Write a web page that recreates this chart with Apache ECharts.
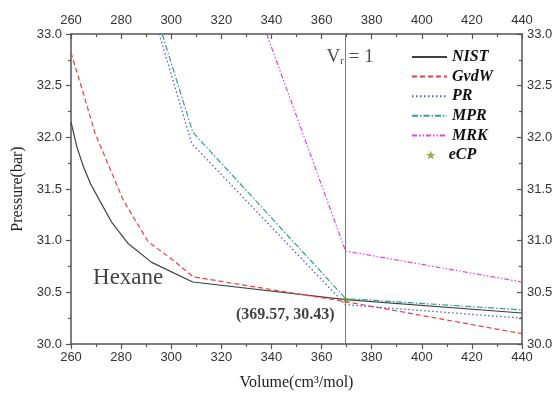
<!DOCTYPE html>
<html><head><meta charset="utf-8">
<script src="https://cdn.jsdelivr.net/npm/echarts@6/dist/echarts.min.js"></script>
<style>html,body{margin:0;padding:0;background:#fff}#c{width:560px;height:396px}</style>
</head><body><div id="c"></div><script>
// Axis scales
const volumeRange = [260, 440];
const volumeStep = 20;
const pressureRange = [30, 33];
const pressureStep = 0.5;

// Series (Volume cm3/mol, Pressure bar)
const nistV = [260, 262.3, 264.9, 267.8, 271.4, 276.2, 282.9, 292.2, 308.6, 369.57, 440];
const nistP = [32.15, 31.91, 31.72, 31.55, 31.39, 31.18, 30.97, 30.79, 30.60, 30.43, 30.30];
const gvdwV = [260, 265, 269.6, 280.9, 290.8, 300.8, 308.8, 369.57, 440];
const gvdwP = [32.82, 32.42, 32.04, 31.39, 30.99, 30.81, 30.65, 30.41, 30.10];
const prV = [295.2, 308.2, 369.57, 440];
const prP = [33.0, 31.94, 30.38, 30.25];
const mprV = [296.4, 308.6, 369.57, 440];
const mprP = [33.0, 32.05, 30.44, 30.33];
const mrkV = [338.1, 369.57, 440];
const mrkP = [33.0, 30.90, 30.60];
const ecpV = [369.57];
const ecpP = [30.43];
const vrLineV = [369.57, 369.57];
const vrLineP = [30, 33];

const zip = (a, b) => a.map((v, i) => [v, b[i]]);
const serif = 'Liberation Serif';
const sans = 'Liberation Sans';
const star = 'path://M0,-10 L2.35,-3.24 L9.51,-3.09 L3.8,1.24 L5.88,8.09 L0,4 L-5.88,8.09 L-3.8,1.24 L-9.51,-3.09 L-2.35,-3.24 Z';

const axisLine = {show: true, lineStyle: {color: '#555', width: 1.5}};
function xAxis(pos, inside, name) {
  return {
    type: 'value', position: pos, min: volumeRange[0], max: volumeRange[1], interval: volumeStep,
    axisLine: axisLine, splitLine: {show: false},
    axisTick: {show: true, inside: inside, length: 5, lineStyle: {color: '#555', width: 1.2}},
    minorTick: {show: true, splitNumber: 2, length: 3, lineStyle: {color: '#555', width: 1.2}},
    axisLabel: {color: '#333', fontSize: 13, fontFamily: sans, margin: 7},
    name: name || '', nameLocation: 'middle', nameGap: 31,
    nameTextStyle: {fontFamily: serif, fontSize: 16, color: '#222'}
  };
}
function yAxis(pos, inside, name) {
  return {
    type: 'value', position: pos, min: pressureRange[0], max: pressureRange[1], interval: pressureStep,
    axisLine: axisLine, splitLine: {show: false},
    axisTick: {show: true, inside: inside, length: 5, lineStyle: {color: '#555', width: 1.2}},
    minorTick: {show: true, splitNumber: 2, length: 3, lineStyle: {color: '#555', width: 1.2}},
    axisLabel: {color: '#333', fontSize: 13, fontFamily: sans, margin: pos === 'left' ? 9 : 5,
      formatter: v => v.toFixed(1)},
    name: name || '', nameLocation: 'middle', nameGap: 44,
    nameTextStyle: {fontFamily: serif, fontSize: 16, color: '#222'}
  };
}
function lineSeries(name, v, p, color, type, width) {
  return {
    name: name, type: 'line', data: zip(v, p), symbol: 'none', smooth: false,
    lineStyle: {color: color, type: type, width: width || 1.2}, itemStyle: {color: color},
    z: 3, silent: true
  };
}
function textSeries(v, p, label) {
  return {
    type: 'scatter', data: [[v, p]], symbolSize: 1, itemStyle: {color: 'rgba(0,0,0,0)'},
    silent: true, z: 5, label: Object.assign({show: true, position: 'inside'}, label)
  };
}
const legendText = {fontFamily: serif, fontSize: 16, fontWeight: 'bold', fontStyle: 'italic', color: '#111'};

const chart = echarts.init(document.getElementById('c'), null, {renderer: 'canvas'});
chart.setOption({
  animation: false,
  backgroundColor: '#fff',
  grid: {left: 71, right: 38, top: 34, bottom: 52},
  xAxis: [xAxis('bottom', false, 'Volume(cm³/mol)'), xAxis('top', true)],
  yAxis: [yAxis('left', false, 'Pressure(bar)'), yAxis('right', true)],
  legend: [{
    data: ['NIST', 'GvdW', 'PR', 'MPR', 'MRK'],
    orient: 'vertical', left: 411, top: 49, padding: 0, itemWidth: 35, itemHeight: 14, itemGap: 3.6,
    itemStyle: {opacity: 0},
    textStyle: legendText
  }, {
    data: ['eCP'],
    orient: 'vertical', left: 426, top: 147, padding: 0, itemWidth: 26, itemHeight: 9,
    textStyle: legendText
  }],
  series: [
    {type: 'line', data: zip(vrLineV, vrLineP), symbol: 'none', silent: true,
     lineStyle: {color: '#777', width: 1}, z: 2},
    lineSeries('NIST', nistV, nistP, '#404040', 'solid', 1.2),
    lineSeries('GvdW', gvdwV, gvdwP, '#ee3b3b', [5, 3], 1.2),
    lineSeries('PR', prV, prP, '#4a5fd5', [1.5, 2.5], 1.3),
    lineSeries('MPR', mprV, mprP, '#2e9e9e', [6, 2, 1.5, 2], 1.2),
    lineSeries('MRK', mrkV, mrkP, '#e83ee8', [5, 2, 1.5, 2, 1.5, 2], 1.2),
    {name: 'eCP', type: 'scatter', data: zip(ecpV, ecpP), symbol: star, symbolSize: 8,
     itemStyle: {color: '#8c8c1e'}, z: 6, silent: true},
    textSeries(369.57, 32.78, {
      align: 'left', verticalAlign: 'middle', offset: [-19, 0],
      formatter: '{v|V}{s|r}{v| = 1}',
      rich: {v: {fontFamily: serif, fontSize: 19, color: '#222'},
             s: {fontFamily: serif, fontSize: 11, color: '#222', verticalAlign: 'bottom', padding: [8, 0, 0, 0]}}
    }),
    textSeries(369.57, 30.28, {
      align: 'right', verticalAlign: 'middle', offset: [-11, 0],
      formatter: '(369.57, 30.43)', fontFamily: serif, fontSize: 16, fontWeight: 'bold', color: '#111'
    }),
    textSeries(268.8, 30.64, {
      align: 'left', verticalAlign: 'middle', offset: [0, 0],
      formatter: 'Hexane', fontFamily: serif, fontSize: 23, color: '#111'
    })
  ]
});
</script></body></html>
